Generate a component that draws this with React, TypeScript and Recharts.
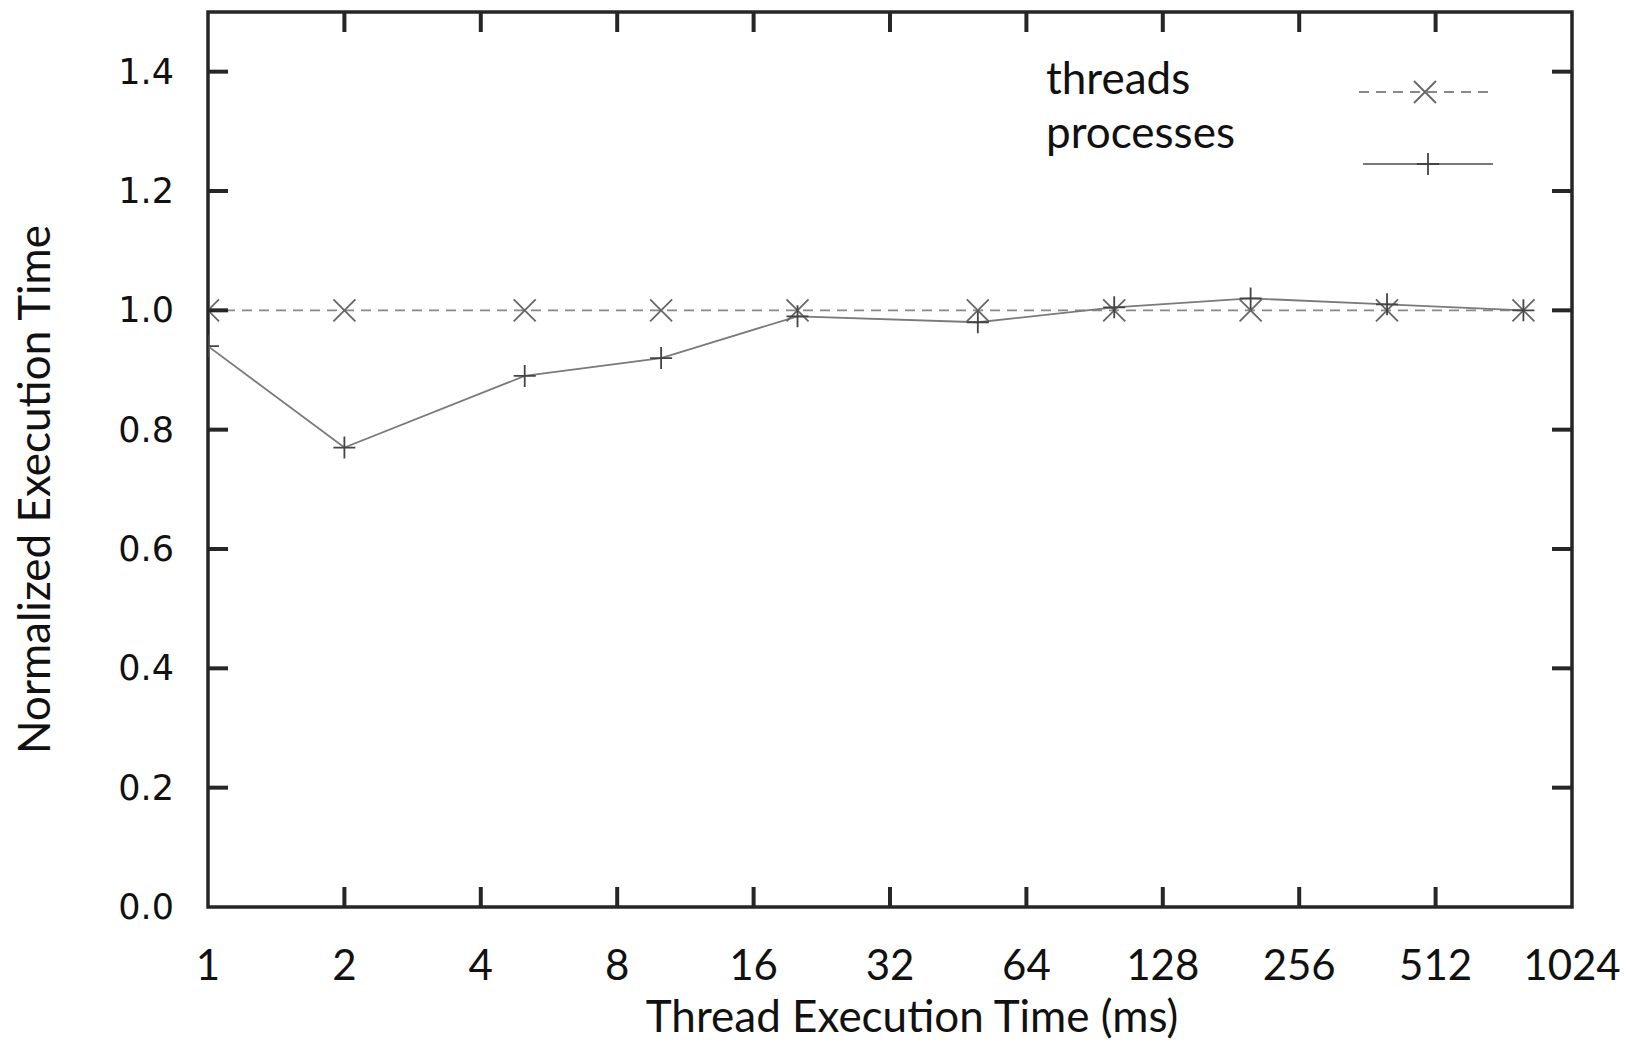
import React from 'react';
import { LineChart, Line, XAxis, YAxis, Legend, Label, ReferenceArea } from 'recharts';

const xValues = [1, 2, 5, 10, 20, 50, 100, 200, 400, 800];
const threadsValues = [1.0, 1.0, 1.0, 1.0, 1.0, 1.0, 1.0, 1.0, 1.0, 1.0];
const processesValues = [0.94, 0.77, 0.89, 0.92, 0.99, 0.98, 1.005, 1.02, 1.01, 1.0];
const xTicks = [1, 2, 4, 8, 16, 32, 64, 128, 256, 512, 1024];
const yTicks = [0, 0.2, 0.4, 0.6, 0.8, 1.0, 1.2, 1.4];
const xDomain = [1, 1024];
const yDomain = [0, 1.5];
const seriesNames = ['threads', 'processes'];
const xTitle = 'Thread Execution Time (ms)';
const yTitle = 'Normalized Execution Time';

const data = xValues.map((x, i) => ({
  x,
  [seriesNames[0]]: threadsValues[i],
  [seriesNames[1]]: processesValues[i],
}));

// layout
const CHART_W = 1620;
const CHART_H = 1036;
const MARGIN = { top: 4, right: 56, bottom: 0, left: 0 };
const YAXIS_W = 200;
const XAXIS_H = 137;
const PLOT_LEFT = MARGIN.left + YAXIS_W;
const PLOT_RIGHT = CHART_W - MARGIN.right;
const PLOT_TOP = MARGIN.top;
const PLOT_BOTTOM = CHART_H - MARGIN.bottom - XAXIS_H;

const TICK_LEN = 20;
const TICK_W = 4;
const BORDER = '#262626';
const TEXT_FONT = 'Lato, "Open Sans", sans-serif';
const NUM_FONT = '"DejaVu Sans", Verdana, sans-serif';
const THREAD_COLOR = '#888888';
const PROC_COLOR = '#7a7a7a';

const isInnerX = (v: number) => v !== xTicks[0] && v !== xTicks[xTicks.length - 1];
const isInnerY = (v: number) => v !== yTicks[0];

const BottomTick = (props: any) => {
  const { payload } = props;
  const x = payload.coordinate != null ? payload.coordinate : props.x;
  const v = payload.value;
  return (
    <g>
      {isInnerX(v) && (
        <g>
          <line x1={x} x2={x} y1={PLOT_BOTTOM} y2={PLOT_BOTTOM - TICK_LEN} stroke={BORDER} strokeWidth={TICK_W} />
          <line x1={x} x2={x} y1={PLOT_TOP} y2={PLOT_TOP + TICK_LEN} stroke={BORDER} strokeWidth={TICK_W} />
        </g>
      )}
      <text x={x} y={PLOT_BOTTOM + 73} textAnchor="middle" fontFamily={TEXT_FONT} fontSize={42} fill="#111">
        {v}
      </text>
    </g>
  );
};

const LeftTick = (props: any) => {
  const { payload } = props;
  const y = payload.coordinate != null ? payload.coordinate : props.y;
  const v = payload.value;
  return (
    <g>
      {isInnerY(v) && (
        <g>
          <line x1={PLOT_LEFT} x2={PLOT_LEFT + TICK_LEN} y1={y} y2={y} stroke={BORDER} strokeWidth={TICK_W} />
          <line x1={PLOT_RIGHT} x2={PLOT_RIGHT - TICK_LEN} y1={y} y2={y} stroke={BORDER} strokeWidth={TICK_W} />
        </g>
      )}
      <text x={PLOT_LEFT - 34} y={y + 12} textAnchor="end" fontFamily={NUM_FONT} fontSize={35} fill="#111">
        {Number(v).toFixed(1)}
      </text>
    </g>
  );
};

const XMark = ({ cx, cy, color, size = 11 }: any) => (
  <path
    d={`M${cx - size},${cy - size}L${cx + size},${cy + size}M${cx - size},${cy + size}L${cx + size},${cy - size}`}
    stroke={color}
    strokeWidth={1.8}
    fill="none"
  />
);

const PlusMark = ({ cx, cy, color, size = 11 }: any) => (
  <path
    d={`M${cx - size},${cy}L${cx + size},${cy}M${cx},${cy - size}L${cx},${cy + size}`}
    stroke={color}
    strokeWidth={1.8}
    fill="none"
  />
);

const ThreadDot = (props: any) => {
  const { cx, cy, index } = props;
  if (cx == null || cy == null) return <g key={`t${index}`} />;
  return <XMark key={`t${index}`} cx={cx} cy={cy} color="#666" />;
};

const ProcDot = (props: any) => {
  const { cx, cy, index } = props;
  if (cx == null || cy == null) return <g key={`p${index}`} />;
  return <PlusMark key={`p${index}`} cx={cx} cy={cy} color="#444" />;
};

const legendStyle: Record<string, any> = {
  threads: { textY: 86, lineY: 84, x1: 1351, x2: 1485, mx: 1417, dash: '10 7', color: THREAD_COLOR, mark: 'x' },
  processes: { textY: 140, lineY: 156, x1: 1355, x2: 1485, mx: 1420, dash: undefined, color: PROC_COLOR, mark: '+' },
};

const renderLegend = (props: any) => {
  const payload = props.payload || [];
  return (
    <svg width={CHART_W} height={200} style={{ display: 'block', overflow: 'visible' }}>
      {payload.map((p: any) => {
        const r = legendStyle[p.value];
        if (!r) return null;
        return (
          <g key={p.value}>
            <text x={1038} y={r.textY} fontFamily={TEXT_FONT} fontSize={44} fill="#111">
              {p.value}
            </text>
            <line x1={r.x1} x2={r.x2} y1={r.lineY} y2={r.lineY} stroke={r.color} strokeWidth={1.9} strokeDasharray={r.dash} />
            {r.mark === 'x' ? (
              <XMark cx={r.mx} cy={r.lineY} color="#666" />
            ) : (
              <PlusMark cx={r.mx} cy={r.lineY} color="#444" />
            )}
          </g>
        );
      })}
    </svg>
  );
};

export default function App() {
  return (
    <div style={{ width: CHART_W, height: CHART_H, background: '#fff' }}>
      <LineChart width={CHART_W} height={CHART_H} data={data} margin={MARGIN}>
        <XAxis
          xAxisId="bottom"
          dataKey="x"
          type="number"
          scale="log"
          domain={xDomain}
          ticks={xTicks}
          interval={0}
          height={XAXIS_H}
          tickSize={0}
          tickMargin={0}
          tickLine={false}
          axisLine={false}
          tick={<BottomTick />}
          allowDataOverflow
        >
          <Label
            content={() => {
              const cx = (PLOT_LEFT + PLOT_RIGHT) / 2 + 22;
              return (
                <text x={cx} y={PLOT_BOTTOM + 125} textAnchor="middle" fontFamily={TEXT_FONT} fontSize={44} fill="#111">
                  {xTitle}
                </text>
              );
            }}
          />
        </XAxis>
        <YAxis
          yAxisId="left"
          type="number"
          domain={yDomain}
          ticks={yTicks}
          interval={0}
          width={YAXIS_W}
          tickSize={0}
          tickMargin={0}
          tickLine={false}
          axisLine={false}
          tick={<LeftTick />}
          allowDataOverflow
        >
          <Label
            content={() => {
              const cx = 42;
              const cy = (PLOT_TOP + PLOT_BOTTOM) / 2 + 30;
              return (
                <text x={cx} y={cy} transform={`rotate(-90 ${cx} ${cy})`} textAnchor="middle" fontFamily={TEXT_FONT} fontSize={44} fill="#111">
                  {yTitle}
                </text>
              );
            }}
          />
        </YAxis>
        <ReferenceArea
          xAxisId="bottom"
          yAxisId="left"
          x1={xDomain[0]}
          x2={xDomain[1]}
          y1={yDomain[0]}
          y2={yDomain[1]}
          fill="none"
          fillOpacity={0}
          stroke={BORDER}
          strokeWidth={3.5}
          ifOverflow="visible"
        />
        <Legend
          layout="vertical"
          align="center"
          verticalAlign="middle"
          content={renderLegend}
          wrapperStyle={{ position: 'absolute', left: 0, top: 0, width: CHART_W, height: 200, pointerEvents: 'none' }}
        />
        <Line
          xAxisId="bottom"
          yAxisId="left"
          type="linear"
          dataKey={seriesNames[0]}
          name={seriesNames[0]}
          stroke={THREAD_COLOR}
          strokeWidth={1.9}
          strokeDasharray="10 7"
          dot={ThreadDot}
          activeDot={false}
          isAnimationActive={false}
        />
        <Line
          xAxisId="bottom"
          yAxisId="left"
          type="linear"
          dataKey={seriesNames[1]}
          name={seriesNames[1]}
          stroke={PROC_COLOR}
          strokeWidth={1.8}
          dot={ProcDot}
          activeDot={false}
          isAnimationActive={false}
        />
      </LineChart>
    </div>
  );
}
